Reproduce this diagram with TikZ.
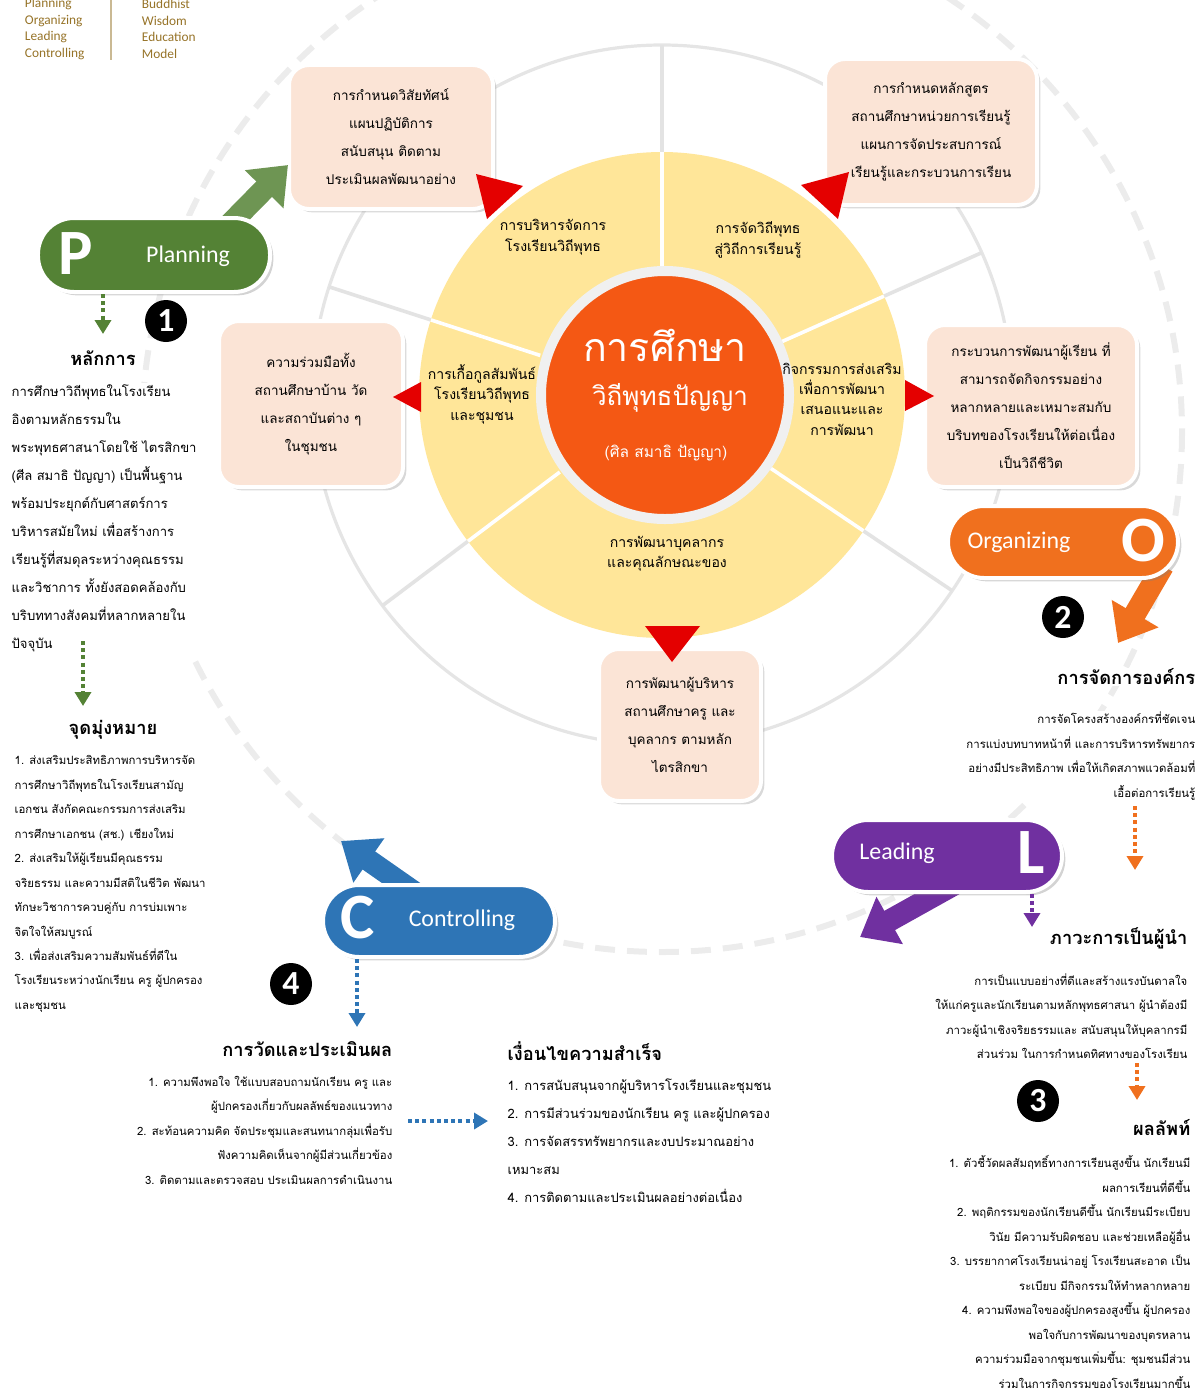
\documentclass[tikz,border=0pt]{standalone}
\usepackage{fontspec}
\setmainfont{Carlito}
\newfontfamily\thai[Script=Thai]{Loma}
\usetikzlibrary{arrows.meta,positioning,shadows}
\definecolor{cplan}{RGB}{84,130,53}
\definecolor{corg}{RGB}{240,112,30}
\definecolor{clead}{RGB}{112,48,160}
\definecolor{cctrl}{RGB}{46,117,182}
\definecolor{cring}{RGB}{255,230,153}
\definecolor{chub}{RGB}{244,88,20}
\definecolor{cbox}{RGB}{251,228,214}
\definecolor{ctip}{RGB}{228,0,0}
\definecolor{clegend}{RGB}{150,115,40}
\definecolor{cdash}{RGB}{236,236,236}
\newcommand{\tsize}[2]{\fontsize{#1}{#2}\selectfont}

\begin{document}
\begin{tikzpicture}[x=0.25mm, y=-0.25mm,
    idea/.style={rectangle, rounded corners=5mm, draw=white, line width=1mm, fill=cbox, drop shadow={opacity=0.3}, align=center, inner sep=0pt, font=\thai\tsize{9.6}{19.9}},
    tab/.style={rectangle, rounded corners=9mm, draw=white, line width=1mm, minimum width=58mm, minimum height=18mm, drop shadow={opacity=0.35}},
    tabtext/.style={text=white, font=\tsize{17}{17}},
    tabletter/.style={text=white, font=\bfseries\tsize{46}{46}},
    seg/.style={align=center, font=\thai\tsize{10}{14.5}},
    head/.style={fill=white, inner sep=1pt, font=\thai\bfseries\tsize{13}{15}},
    para/.style={fill=white, inner sep=1pt, font=\thai\tsize{9.3}{19.9}},
    list/.style={fill=white, inner sep=1pt, font=\thai\tsize{8.1}{17.4}},
    badge/.style={circle, fill=black, minimum size=10.5mm, inner sep=0pt, text=white, font=\bfseries\tsize{24}{24}},
    dotarrow/.style={line width=0.9mm, dash pattern=on 1mm off 0.8mm, -{Triangle[length=3.5mm,width=4mm]}},
    blockarrow/.style={line width=5.5mm, -{Triangle[length=8.5mm,width=13mm]}},
    tip/.style={fill=ctip}
]
    \useasboundingbox (0,0) rectangle (1200,1396);

    % Legend
    \node[anchor=west, align=left, text=clegend, font=\tsize{9.5}{11.7}] (legpoc) at (20,29) {Planning\\Organizing\\Leading\\Controlling};
    \node[anchor=west, align=left, text=clegend, font=\tsize{9.5}{11.7}] (legmodel) at (137,29) {Buddhist\\Wisdom\\Education\\Model};
    \draw[clegend!50, line width=0.5mm] (111,0) -- (111,60);

    % Outer dashed ring and wheel
    \draw[cdash, line width=1.5mm, dash pattern=on 5mm off 3mm] (662,432) circle[radius=520];
    \coordinate (hubc) at (662,395);
    \fill[white, drop shadow={opacity=0.25, shadow xshift=0mm, shadow yshift=0mm}] (hubc) circle[radius=350];
    \draw[gray!20, line width=0.8mm] (hubc) circle[radius=350];
    \foreach \a in {90,24,162,217,326}
        \draw[gray!22, line width=0.9mm] (hubc) ++(-\a:128) -- ++(-\a:222);
    \fill[cring] (hubc) circle[radius=243];
    \foreach \a in {90,24,162,217,326}
        \draw[white, line width=0.9mm] (hubc) ++(-\a:128) -- ++(-\a:115);
    \node[circle, fill=chub, draw=gray!12, line width=2.5mm, minimum size=62mm, inner sep=0pt] (hub) at (665,395) {};
    \node[text=white, inner sep=0pt, font=\thai\tsize{28}{28}] (hubtitle) at (665,345) {การศึกษา};
    \node[text=white, inner sep=0pt, font=\thai\tsize{18.5}{18.5}] (hubsub) at (670,398) {วิถีพุทธปัญญา};
    \node[text=white, font=\thai\tsize{11}{11}] (hubtri) at (666,453) {(ศิล สมาธิ ปัญญา)};

    % Segment labels
    \node[seg] (segmgmt) at (553,237) {การบริหารจัดการ\\โรงเรียนวิถีพุทธ};
    \node[seg] (seglearn) at (758,240) {การจัดวิถีพุทธ\\สู่วิถีการเรียนรู้};
    \node[seg] (segcomm) at (482,394) {การเกื้อกูลสัมพันธ์\\โรงเรียนวิถีพุทธ\\และชุมชน};
    \node[seg] (segact) at (842,399) {กิจกรรมการส่งเสริม\\เพื่อการพัฒนา\\เสนอแนะและ\\การพัฒนา};
    \node[seg] (segstaff) at (667,554) {การพัฒนาบุคลากร\\และคุณลักษณะของ};

    % Boxes around the wheel
    \node[idea, minimum width=51mm, minimum height=36mm] (bxvision) at (391,137) {การกำหนดวิสัยทัศน์\\แผนปฏิบัติการ\\สนับสนุน ติดตาม\\ประเมินผลพัฒนาอย่าง};
    \node[idea, minimum width=53mm, minimum height=36.5mm] (bxcourse) at (931,132) {การกำหนดหลักสูตร\\สถานศึกษาหน่วยการเรียนรู้\\แผนการจัดประสบการณ์\\เรียนรู้และกระบวนการเรียน};
    \node[idea, minimum width=46mm, minimum height=41.5mm] (bxcommu) at (311,404) {ความร่วมมือทั้ง\\สถานศึกษาบ้าน วัด\\และสถาบันต่าง ๆ\\ในชุมชน};
    \node[idea, minimum width=53mm, minimum height=40.5mm] (bxproc) at (1031,406) {กระบวนการพัฒนาผู้เรียน ที่\\สามารถจัดกิจกรรมอย่าง\\หลากหลายและเหมาะสมกับ\\บริบทของโรงเรียนให้ต่อเนื่อง\\เป็นวิถีชีวิต};
    \node[idea, minimum width=40.5mm, minimum height=38mm] (bxstaff) at (680,725) {การพัฒนาผู้บริหาร\\สถานศึกษาครู และ\\บุคลากร ตามหลัก\\ไตรสิกขา};

    % Pointers from wheel to boxes
    \fill[tip] (476,174) -- (523,186) -- (487,219) -- cycle;
    \fill[tip] (849,172) -- (801,185) -- (838,219) -- cycle;
    \fill[tip] (393,397) -- (421,382) -- (421,412) -- cycle;
    \fill[tip] (934,396) -- (905,380) -- (905,411) -- cycle;
    \fill[tip] (672,662) -- (645,626) -- (700,626) -- cycle;

    % Block arrows behind tabs
    \draw[blockarrow, cplan!85] (226,228) -- (288,165);
    \draw[blockarrow, corg] (1163,566) -- (1118,643);
    \draw[blockarrow, clead] (955,884) -- (860,937);
    \draw[blockarrow, cctrl] (414,892) -- (341,841);

    % Planning
    \node[tab, fill=cplan, minimum width=58mm, minimum height=18.5mm] (plan) at (154,255) {};
    \node[tabletter] (planlet) at (76,254) {P};
    \node[tabtext] (plantxt) at (188,256) {Planning};
    \node[badge] (n1) at (166,321) {1};
    \coordinate (plandot) at (103,334);
    \draw[dotarrow, cplan] (plan.south -| plandot) -- (plandot);
    \node[head] (hprinc) at (103,358) {หลักการ};
    \node[para, anchor=west, align=left] (pprinc) at (10,518) {การศึกษาวิถีพุทธในโรงเรียน\\อิงตามหลักธรรมใน\\พระพุทธศาสนาโดยใช้ ไตรสิกขา\\(ศีล สมาธิ ปัญญา) เป็นพื้นฐาน\\พร้อมประยุกต์กับศาสตร์การ\\บริหารสมัยใหม่ เพื่อสร้างการ\\เรียนรู้ที่สมดุลระหว่างคุณธรรม\\และวิชาการ ทั้งยังสอดคล้องกับ\\บริบททางสังคมที่หลากหลายใน\\ปัจจุบัน};
    \coordinate (goaldot) at (83,706);
    \draw[dotarrow, cplan] (83,641) -- (goaldot);
    \node[head] (hgoal) at (113,730) {จุดมุ่งหมาย};
    \node[list, anchor=west, align=left] (pgoal) at (13,884) {1. ส่งเสริมประสิทธิภาพการบริหารจัด\\การศึกษาวิถีพุทธในโรงเรียนสามัญ\\เอกชน สังกัดคณะกรรมการส่งเสริม\\การศึกษาเอกชน (สช.) เชียงใหม่\\2. ส่งเสริมให้ผู้เรียนมีคุณธรรม\\จริยธรรม และความมีสติในชีวิต พัฒนา\\ทักษะวิชาการควบคู่กับ การบ่มเพาะ\\จิตใจให้สมบูรณ์\\3. เพื่อส่งเสริมความสัมพันธ์ที่ดีใน\\โรงเรียนระหว่างนักเรียน ครู ผู้ปกครอง\\และชุมชน};

    % Organizing
    \node[tab, fill=corg, minimum width=57.5mm] (org) at (1063,542) {};
    \node[tabtext] (orgtxt) at (1019,542) {Organizing};
    \node[tabletter] (orglet) at (1143,541) {O};
    \node[badge] (n2) at (1063,617) {2};
    \node[head, anchor=east] (horg) at (1197,677) {การจัดการองค์กร};
    \node[list, anchor=east, align=right] (porg) at (1197,756) {การจัดโครงสร้างองค์กรที่ชัดเจน\\การแบ่งบทบาทหน้าที่ และการบริหารทรัพยากร\\อย่างมีประสิทธิภาพ เพื่อให้เกิดสภาพแวดล้อมที่\\เอื้อต่อการเรียนรู้};
    \coordinate (orgdot) at (1135,870);
    \draw[dotarrow, corg] (1135,806) -- (orgdot);

    % Leading
    \node[tab, fill=clead, minimum width=57.5mm] (lead) at (947,856) {};
    \node[tabtext] (leadtxt) at (897,853) {Leading};
    \node[tabletter] (leadlet) at (1031,853) {L};
    \coordinate (leaddot) at (1032,927);
    \draw[dotarrow, clead] (lead.south -| leaddot) -- (leaddot);
    \node[head, anchor=east] (hlead) at (1189,938) {ภาวะการเป็นผู้นำ};
    \node[list, anchor=east, align=right] (plead) at (1189,1016) {การเป็นแบบอย่างที่ดีและสร้างแรงบันดาลใจ\\ให้แก่ครูและนักเรียนตามหลักพุทธศาสนา ผู้นำต้องมี\\ภาวะผู้นำเชิงจริยธรรมและ สนับสนุนให้บุคลากรมี\\ส่วนร่วม ในการกำหนดทิศทางของโรงเรียน};
    \coordinate (resdot) at (1137,1100);
    \draw[dotarrow, corg] (1137,1063) -- (resdot);
    \node[badge] (n3) at (1038,1101) {3};
    \node[head, anchor=east] (hres) at (1192,1128) {ผลลัพท์};
    \node[list, anchor=east, align=right] (pres) at (1192,1272) {1. ตัวชี้วัดผลสัมฤทธิ์ทางการเรียนสูงขึ้น นักเรียนมี\\ผลการเรียนที่ดีขึ้น\\2. พฤติกรรมของนักเรียนดีขึ้น นักเรียนมีระเบียบ\\วินัย มีความรับผิดชอบ และช่วยเหลือผู้อื่น\\3. บรรยากาศโรงเรียนน่าอยู่ โรงเรียนสะอาด เป็น\\ระเบียบ มีกิจกรรมให้ทำหลากหลาย\\4. ความพึงพอใจของผู้ปกครองสูงขึ้น ผู้ปกครอง\\พอใจกับการพัฒนาของบุตรหลาน\\ความร่วมมือจากชุมชนเพิ่มขึ้น: ชุมชนมีส่วน\\ร่วมในการกิจกรรมของโรงเรียนมากขึ้น};

    % Controlling
    \node[tab, fill=cctrl, minimum width=58mm] (ctrl) at (439,921) {};
    \node[tabletter] (ctrllet) at (358,918) {C};
    \node[tabtext] (ctrltxt) at (462,920) {Controlling};
    \node[badge] (n4) at (291,984) {4};
    \coordinate (ctrldot) at (357,1027);
    \draw[dotarrow, cctrl] (ctrl.south -| ctrldot) -- (ctrldot);
    \node[head, anchor=east] (hmeas) at (394,1049) {การวัดและประเมินผล};
    \node[list, anchor=east, align=right] (pmeas) at (394,1130) {1. ความพึงพอใจ ใช้แบบสอบถามนักเรียน ครู และ\\ผู้ปกครองเกี่ยวกับผลลัพธ์ของแนวทาง\\2. สะท้อนความคิด จัดประชุมและสนทนากลุ่มเพื่อรับ\\ฟังความคิดเห็นจากผู้มีส่วนเกี่ยวข้อง\\3. ติดตามและตรวจสอบ ประเมินผลการดำเนินงาน};
    \node[head, anchor=west] (hcond) at (506,1051) {เงื่อนไขความสำเร็จ};
    \node[list, anchor=west, align=left, font=\thai\tsize{9.2}{19.9}] (pcond) at (506,1141) {1. การสนับสนุนจากผู้บริหารโรงเรียนและชุมชน\\2. การมีส่วนร่วมของนักเรียน ครู และผู้ปกครอง\\3. การจัดสรรทรัพยากรและงบประมาณอย่าง\\เหมาะสม\\4. การติดตามและประเมินผลอย่างต่อเนื่อง};
    \draw[dotarrow, cctrl] (pmeas.east |- pcond.west) ++(14,-20) -- ++(80,0);
\end{tikzpicture}
\end{document}
